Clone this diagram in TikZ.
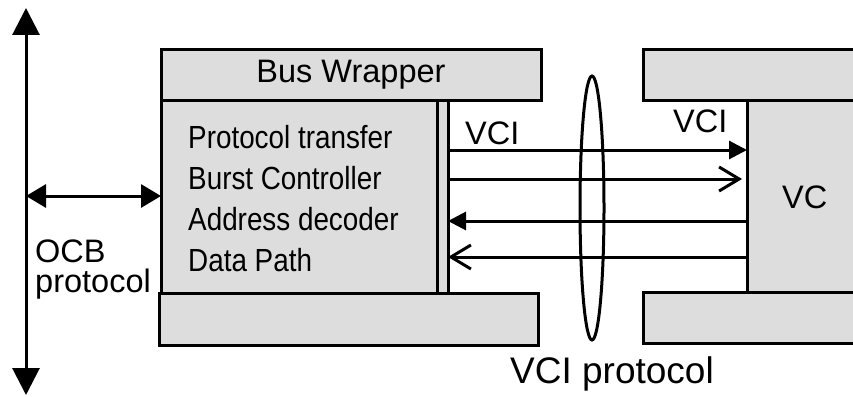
\documentclass[tikz,border=0pt]{standalone}
\usepackage{fontspec}
\setmainfont{Liberation Sans}
\newfontfamily\narrowsf[FakeStretch=0.87]{Liberation Sans}
\usetikzlibrary{arrows.meta,shapes.geometric}
\definecolor{boxgray}{RGB}{221,221,221}

\newcommand{\bigtip}{Triangle[length=27pt,width=27pt]}
\tikzset{x=1pt, y=-1pt,
    every node/.append style={font=\fontsize{32.5}{36}\selectfont, inner sep=0pt},
    block/.style={draw, fill=boxgray, line width=3pt, rectangle, outer sep=0pt, anchor=north west},
    link/.style={line width=3pt},
    solid tip/.style={-{Triangle[length=18pt,width=18pt]}},
    open tip/.style={-{Straight Barb[length=20pt,width=24pt]}},
    item/.style={anchor=base west, font=\narrowsf\fontsize{32}{36}\selectfont}}

\begin{document}
\begin{tikzpicture}
    \clip (0,0) rectangle (853,396);
    % bus wrapper
    \node[block, minimum width=276pt, minimum height=193pt] (wbody) at (161,100) {};
    \node[block, minimum width=11pt, minimum height=193pt] (strip) at (437,100) {};
    \node[block, minimum width=380pt, minimum height=50pt] (wtop) at (161,50) {Bus Wrapper};
    \node[block, minimum width=379pt, minimum height=52pt] (wbot) at (159,293) {};
    \foreach \t [count=\i] in {Protocol transfer, Burst Controller, Address decoder, Data Path}
        \node[item] (item\i) at (188, {148+41.3*(\i-1)}) {\t};

    % virtual component
    \node[block, minimum width=120pt, minimum height=193pt] (vc) at (747,100) {};
    \node[block, minimum width=230pt, minimum height=50pt] (vtop) at (643,50) {};
    \node[block, minimum width=230pt, minimum height=51pt] (vbot) at (643,292) {};
    \node[anchor=base west] (vclabel) at (782,208) {VC};

    % on-chip bus
    \coordinate (otop) at (26,8);
    \coordinate (obot) at (26,395);
    \draw[link, {\bigtip}-{\bigtip}] (otop) -- (obot);
    \draw[link, {Triangle[length=20pt,width=23pt]}-{Triangle[length=20pt,width=23pt]}]
        (otop |- 0,196) -- (wbody.west |- 0,196);
    \node[anchor=base west] (ocb) at (35,262) {OCB};
    \node[anchor=base west] (ocbproto) at (35,292) {protocol};

    % VCI signals
    \draw[link, solid tip] (strip.east |- 0,150) -- (vc.west |- 0,150);
    \draw[link, open tip] (strip.east |- 0,179) -- (742,179);
    \draw[link, solid tip] (vc.west |- 0,221) -- (strip.east |- 0,221);
    \draw[link, open tip] (vc.west |- 0,257) -- (strip.east |- 0,257);
    \node[anchor=base west] (vcil) at (465,144) {VCI};
    \node[anchor=base west] (vcir) at (673,132) {VCI};

    \node[draw, ellipse, line width=3pt, minimum width=24pt, minimum height=264pt] (bundle) at (592,208) {};
    \node[anchor=base west, font=\fontsize{37}{40}\selectfont] (vciproto) at (510,383) {VCI protocol};
\end{tikzpicture}
\end{document}
